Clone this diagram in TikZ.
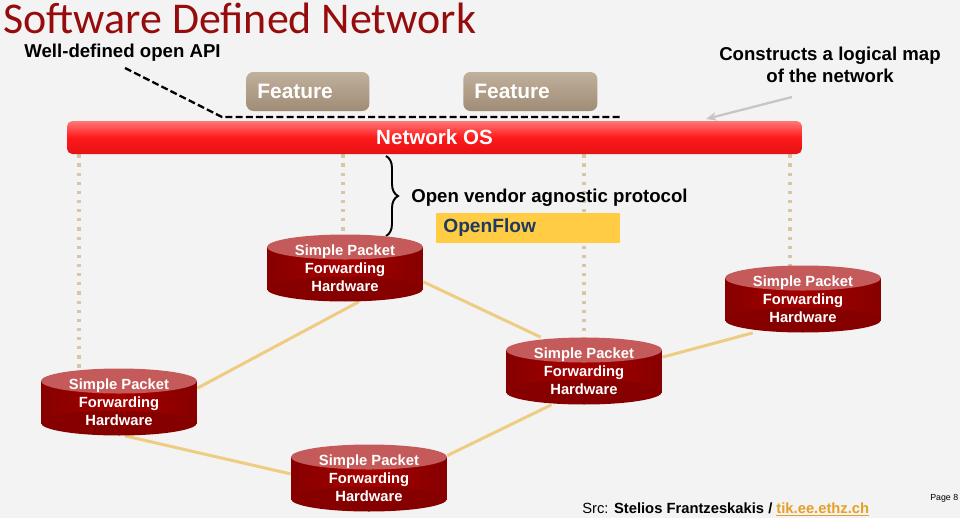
\documentclass[tikz,border=0pt]{standalone}
\usepackage{fontspec}
\setmainfont{Liberation Sans}
\newfontfamily\titlefont{Carlito}
\usetikzlibrary{decorations.pathreplacing,arrows.meta}
\definecolor{bgcol}{RGB}{243,243,243}
\definecolor{titlered}{RGB}{150,12,12}
\definecolor{hwbody}{RGB}{165,0,0}
\definecolor{hwedge}{RGB}{135,0,0}
\definecolor{hwend}{RGB}{196,90,90}
\definecolor{linkcol}{RGB}{238,204,130}
\definecolor{ctrlcol}{RGB}{214,198,165}
\definecolor{feattop}{RGB}{192,176,156}
\definecolor{featbot}{RGB}{160,140,118}
\definecolor{ostop}{RGB}{255,120,120}
\definecolor{osbot}{RGB}{228,18,22}
\definecolor{ofyellow}{RGB}{255,204,68}
\definecolor{ofblue}{RGB}{31,58,96}
\definecolor{srcorange}{RGB}{230,160,40}
\pgfdeclarelayer{bg}
\pgfdeclarelayer{links}
\pgfsetlayers{bg,links,main}
\tikzset{
  hw/.style={minimum width=3.12cm, minimum height=1.34cm, inner sep=0pt,
    text=white, align=center, font=\bfseries\fontsize{8.4}{10.2}\selectfont,
    path picture={
      \shade[left color=hwedge, right color=hwedge, middle color=hwbody]
        ([yshift=-0.25cm]path picture bounding box.north west) rectangle
        ([yshift=0.25cm]path picture bounding box.south east);
      \fill[hwedge] ([yshift=0.25cm]path picture bounding box.south) ellipse (1.56cm and 0.25cm);
      \fill[hwend] ([yshift=-0.25cm]path picture bounding box.north) ellipse (1.56cm and 0.25cm);
    }},
  feature/.style={rounded corners=4pt, top color=feattop, bottom color=featbot,
    minimum height=0.78cm, inner xsep=0.22cm, align=left, text=white,
    font=\bfseries\fontsize{11.9}{14}\selectfont},
  note/.style={font=\bfseries\fontsize{10.6}{12.6}\selectfont},
  link/.style={linkcol, line width=1.7pt},
  ctrl/.style={ctrlcol, line width=1.8pt, dash pattern=on 1.8pt off 3.4pt},
  apiline/.style={black, line width=1.3pt, dash pattern=on 4pt off 1.8pt}
}
\begin{document}
\begin{tikzpicture}[x=0.02cm,y=-0.02cm]
\begin{pgfonlayer}{bg}
\path[fill=bgcol] (0,0) rectangle (960,518);
\end{pgfonlayer}
% title and notes
\node[anchor=base west, inner sep=0pt, text=titlered, font=\titlefont\fontsize{25}{30}\selectfont] (title) at (3,33) {Software Defined Network};
\node[note, anchor=base west, inner sep=0pt] (api) at (24,57) {Well-defined open API};
\node[note, align=center, inner sep=0pt] (mapnote) at (830,65) {Constructs a logical map\\of the network};
% controller
\node[feature, text width=2.02cm, anchor=west] (feat1) at (246,91.5) {Feature};
\node[feature, text width=2.24cm, anchor=west] (feat2) at (463,91.5) {Feature};
\node[rounded corners=3pt, top color=ostop, bottom color=osbot, middle color=red!90!white,
  minimum width=14.7cm, minimum height=0.66cm, text=white,
  font=\bfseries\fontsize{11.7}{14}\selectfont] (netos) at (434.5,137.5) {Network OS};
\coordinate (apistart) at (125,68);
\coordinate (apibend) at (222,117);
\coordinate (apiend) at (620,117);
\draw[apiline] (apistart) -- (apibend) -- (apiend);
\coordinate (mapstart) at (792,97);
\coordinate (mapend) at (706,119);
\draw[gray!45, line width=1.3pt, -{Stealth[length=6pt,width=5pt]}] (mapstart) -- (mapend);
% protocol
\coordinate (bracetop) at (386,156);
\coordinate (bracebot) at (386,236);
\draw[black, line width=1.1pt, decorate, decoration={brace, amplitude=0.24cm}] (bracetop) -- (bracebot);
\node[note, anchor=west, inner sep=0pt] (proto) at (411,198) {Open vendor agnostic protocol};
\node[fill=ofyellow, anchor=west, minimum height=0.6cm, text width=3.4cm, inner xsep=0.14cm,
  text=ofblue, font=\bfseries\fontsize{10.9}{13}\selectfont] (oflow) at (436,228) {OpenFlow};
% switches
\node[hw] (hw1) at (345,268) {Simple Packet\\Forwarding\\Hardware};
\node[hw] (hw2) at (803,299) {Simple Packet\\Forwarding\\Hardware};
\node[hw] (hw3) at (584,371) {Simple Packet\\Forwarding\\Hardware};
\node[hw] (hw4) at (119,402) {Simple Packet\\Forwarding\\Hardware};
\node[hw] (hw5) at (369,478) {Simple Packet\\Forwarding\\Hardware};
\begin{pgfonlayer}{links}
\draw[ctrl] ([xshift=-0.8cm]hw4.center |- netos.south) -- ([xshift=-0.8cm]hw4.center);
\draw[ctrl] ([xshift=-0.04cm]hw1.center |- netos.south) -- ([xshift=-0.04cm]hw1.center);
\draw[ctrl] (hw3.center |- netos.south) -- (hw3.center);
\draw[ctrl] ([xshift=-0.26cm]hw2.center |- netos.south) -- ([xshift=-0.26cm]hw2.center);
\draw[link] (hw4.10) -- (hw1.-68);
\draw[link] (hw1.-10) -- (hw3.142);
\draw[link] (hw3.10) -- (hw2.-146);
\draw[link] (hw3.-134) -- (hw5.16);
\draw[link] (hw4.-80) -- (hw5.177);
\end{pgfonlayer}
% source
\node[anchor=base west, inner sep=0pt, font=\fontsize{8.4}{10}\selectfont] (src) at (582,513)
  {Src: \textbf{Stelios Frantzeskakis / \textcolor{srcorange}{\underline{tik.ee.ethz.ch}}}};
\node[anchor=base west, inner sep=0pt, font=\fontsize{5}{6}\selectfont] (page) at (930,500) {Page 8};
\end{tikzpicture}
\end{document}
